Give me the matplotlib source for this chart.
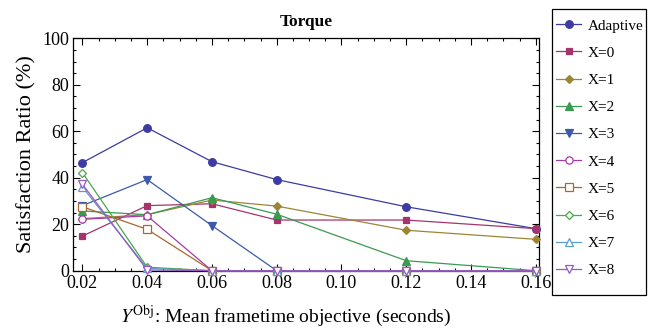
import matplotlib
matplotlib.use('Agg')
import matplotlib.pyplot as plt
from matplotlib.patches import Rectangle
from matplotlib.ticker import MultipleLocator, FormatStrFormatter

plt.rcParams['font.family'] = 'Liberation Serif'
plt.rcParams['mathtext.fontset'] = 'stix'

# frametime objectives (seconds)
y_obj = [0.02, 0.04, 0.06, 0.08, 0.12, 0.16]

labels = ['Adaptive', 'X=0', 'X=1', 'X=2', 'X=3', 'X=4', 'X=5', 'X=6', 'X=7', 'X=8']

adaptive = [46.5, 61.5, 46.9, 39.2, 27.5, 18.1]
x0 = [14.9, 28.0, 28.8, 21.8, 21.8, 18.1]
x1 = [22.4, 24.1, 30.4, 27.8, 17.4, 13.5]
x2 = [25.7, 24.1, 31.4, 24.3, 4.3, 0.0]
x3 = [28.0, 39.2, 19.4, 0.0, 0.0, 0.0]
x4 = [22.1, 23.6, 0.0, 0.0, 0.0, 0.0]
x5 = [27.5, 17.8, 0.0, 0.0, 0.0, 0.0]
x6 = [42.2, 1.5, 0.0, 0.0, 0.0, 0.0]
x7 = [36.0, 1.0, 0.0, 0.0, 0.0, 0.0]
x8 = [37.2, 0.3, 0.0, 0.0, 0.0, 0.0]

series = [adaptive, x0, x1, x2, x3, x4, x5, x6, x7, x8]

colors = ['#3c3ca4', '#a5346c', '#9c8636', '#3a9a52', '#3c5aa8',
          '#a83aa2', '#a8682e', '#4aa84a', '#5a9ec8', '#9858c0']
markers = ['o', 's', 'D', '^', 'v', 'o', 's', 'D', '^', 'v']
filled = [True, True, True, True, True, False, False, False, False, False]
msizes = [5.5, 4.8, 4.2, 5.2, 5.2, 5.2, 5.2, 4.0, 5.4, 5.4]

fig = plt.figure(figsize=(6.49, 3.30), dpi=100)
ax = fig.add_axes([0.1130, 0.1797, 0.7176, 0.7043])

handles = []
for vals, lab, c, m, f, ms in zip(series, labels, colors, markers, filled, msizes):
    h, = ax.plot(y_obj, vals, color=c, lw=0.9, marker=m, markersize=ms,
                 markerfacecolor=c if f else 'white', markeredgecolor=c,
                 markeredgewidth=0.9, label=lab, clip_on=False, zorder=3)
    handles.append(h)

ax.set_xlim(0.0172, 0.161)
ax.set_ylim(0, 100)
ax.xaxis.set_major_locator(MultipleLocator(0.02))
ax.xaxis.set_minor_locator(MultipleLocator(0.005))
ax.xaxis.set_major_formatter(FormatStrFormatter('%.2f'))
ax.yaxis.set_major_locator(MultipleLocator(20))
ax.yaxis.set_minor_locator(MultipleLocator(5))
ax.tick_params(which='both', direction='in', top=True, right=True,
               labelsize=13, pad=3)
ax.tick_params(which='major', length=5, width=0.8)
ax.tick_params(which='minor', length=2.5, width=0.8)
for sp in ax.spines.values():
    sp.set_linewidth(0.9)

ax.set_title('Torque', fontsize=12.5, fontweight='bold', pad=9)
ax.set_ylabel('Satisfaction Ratio (%)', fontsize=16, labelpad=4)
ax.set_xlabel(r'$Y^{\mathrm{Obj}}$: Mean frametime objective (seconds)',
              fontsize=14)
ax.xaxis.set_label_coords(0.455, -0.14)

# legend outside the plot, boxed with a plain black frame
leg = fig.legend(handles=handles, loc='upper left',
                 bbox_to_anchor=(0.8567, 0.943), fontsize=11,
                 frameon=False, handlelength=1.64, handletextpad=0.46,
                 labelspacing=0.885, borderpad=0.0, borderaxespad=0.0)
fig.patches.append(Rectangle((552 / 649, 35 / 330), 94 / 649, 285.7 / 330,
                             transform=fig.transFigure, fill=False,
                             edgecolor='black', linewidth=0.9))

fig.savefig('out.png', dpi=100)
